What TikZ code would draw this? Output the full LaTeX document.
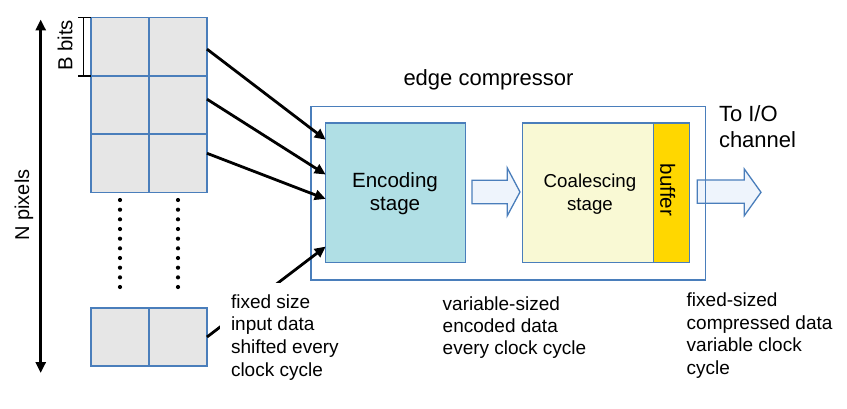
\documentclass[tikz,border=0pt]{standalone}
\usepackage{fontspec}
\setmainfont{Liberation Sans}
\usetikzlibrary{arrows.meta,calc}
\definecolor{bline}{HTML}{4A7EBB}
\definecolor{cellgray}{HTML}{E6E6E6}
\definecolor{encfill}{HTML}{B0DFE5}
\definecolor{coalfill}{HTML}{F9F9D4}
\definecolor{buffill}{HTML}{FFD700}
\definecolor{arrfill}{HTML}{EEF4FC}
\begin{document}
\begin{tikzpicture}[x=1pt,y=-1pt,
  cell/.style={draw=bline,fill=cellgray,line width=1.3pt,minimum width=58pt,minimum height=58.2pt,inner sep=0pt,outer sep=0pt},
  stagebox/.style={draw=bline,line width=1.3pt,inner sep=0pt,outer sep=0pt},
  barrow/.style={draw=bline,fill=arrfill,line width=1.3pt,line join=miter},
  feed/.style={line width=2.8pt,-{Triangle[length=11pt,width=10pt]}},
  lbl/.style={inner sep=0pt,outer sep=0pt,align=left},
]
\useasboundingbox (0,0) rectangle (847,409);
% grid of pixels
\node[cell] (c11) at (120,46.8) {};
\node[cell] (c12) at (178,46.8) {};
\node[cell] (c21) at (120,105) {};
\node[cell] (c22) at (178,105) {};
\node[cell] (c31) at (120,163.2) {};
\node[cell] (c32) at (178,163.2) {};
\node[cell] (b1) at (120,337) {};
\node[cell] (b2) at (178,337) {};
% dots
\foreach \i in {0,...,9} {
  \fill (120,200+9.67*\i) circle (2.1pt);
  \fill (178,200+9.67*\i) circle (2.1pt);
}
% N pixels arrow
\coordinate (nt) at (40.7,19.5);
\coordinate (nb) at (40.7,373);
\draw[line width=3.2pt,{Triangle[length=11pt,width=10pt]}-{Triangle[length=11pt,width=10pt]}] (nt) -- (nb);
\node[rotate=90,font=\fontsize{20}{24}\selectfont] (np) at (24,205) {N pixels};
% B bits bracket
\draw[line width=1.3pt] (c11.north west) -- ++(-13,0);
\draw[line width=1.3pt] (c11.south west) -- ++(-13,0);
\draw[line width=1.3pt] ($(c11.north west)+(-7.3,0)$) -- ($(c11.south west)+(-7.3,0)$);
\node[rotate=90,font=\fontsize{20.3}{24}\selectfont] (bb) at (65,45.3) {B bits};
% stages
\node[stagebox,fill=encfill,minimum width=139.6pt,minimum height=139.3pt] (enc) at (395.5,192.65) {};
\node[stagebox,fill=coalfill,minimum width=131pt,minimum height=139.3pt] (coal) at (587.8,192.65) {};
\node[stagebox,fill=buffill,minimum width=36pt,minimum height=139.3pt] (buf) at (671.3,192.65) {};
\node[anchor=base,align=center,inner sep=0pt,font=\fontsize{20.6}{22.3}\selectfont] (enct) at (395,210.3) {Encoding\\stage};
\node[anchor=base,align=center,inner sep=0pt,font=\fontsize{18.7}{22.3}\selectfont] (coalt) at (590,210.3) {Coalescing\\stage};
\node[rotate=-90,font=\fontsize{20.6}{24}\selectfont] (buft) at (667.7,190) {buffer};
% block arrows
\draw[barrow] (472,180.3) -- (507.3,180.3) -- (507.3,168) -- (520,192) -- (507.3,215.7) -- (507.3,203.7) -- (472,203.7) -- cycle;
\draw[barrow] (697.3,180) -- (744.3,180) -- (744.3,169) -- (761,192.3) -- (744.3,215.7) -- (744.3,203.3) -- (697.3,203.3) -- cycle;
% outer box
\node[stagebox,minimum width=394.3pt,minimum height=173.5pt] (outer) at (508.2,193.25) {};
\node[anchor=base,inner sep=0pt,font=\fontsize{22}{26}\selectfont] (title) at (488.5,85.7) {edge compressor};
\node[anchor=base west,lbl,font=\fontsize{22}{25.7}\selectfont] (io) at (719,147.4) {To I/O\\channel};
% feed arrows
\draw[feed] ($(c12.north east)!0.54!(c12.south east)$) -- ($(enc.north west)!0.12!(enc.south west)$);
\draw[feed] ($(c22.north east)!0.40!(c22.south east)$) -- ($(enc.north west)!0.37!(enc.south west)$);
\draw[feed] ($(c32.north east)!0.33!(c32.south east)$) -- ($(enc.north west)!0.545!(enc.south west)$);
\draw[feed] (b2.east) -- ($(enc.north west)!0.887!(enc.south west)$);
% bottom texts
\node[anchor=base west,align=left,fill=white,inner sep=11pt,outer sep=0pt,font=\fontsize{19}{22.9}\selectfont] (t1) at (220,376.7) {fixed size\\input data\\shifted every\\clock cycle};
\node[anchor=base west,lbl,font=\fontsize{19}{22.2}\selectfont] (t2) at (442.7,354.4) {variable-sized\\encoded data\\every clock cycle};
\node[anchor=base west,lbl,font=\fontsize{19}{22.5}\selectfont] (t3) at (686.7,374.1) {fixed-sized\\compressed data\\variable clock\\cycle};
\end{tikzpicture}
\end{document}
